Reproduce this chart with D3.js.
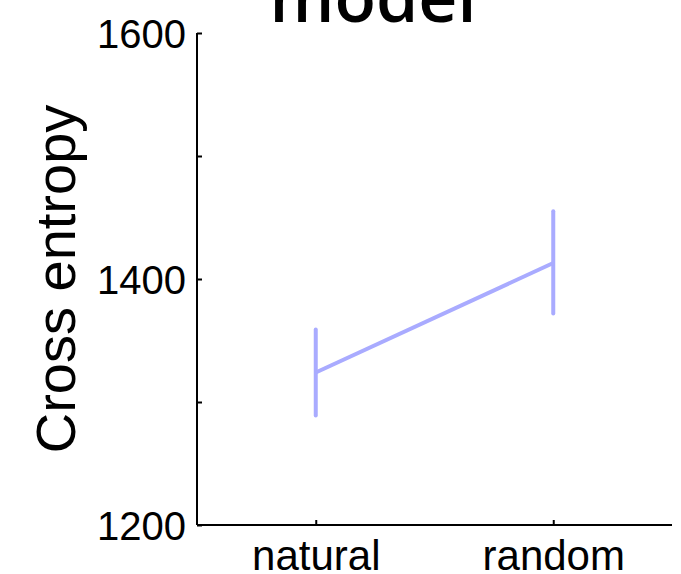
<!DOCTYPE html>
<html>
<head>
<meta charset="utf-8">
<script src="https://cdn.jsdelivr.net/npm/d3@7"></script>
<style>
  html, body { margin: 0; padding: 0; background: #fff; }
  svg { display: block; }
</style>
</head>
<body>
<svg id="chart" width="681" height="574"></svg>
<script>
const categories = ["natural", "random"];
const meanValues = [1324, 1413];
const errLow = [1289, 1372];
const errHigh = [1359, 1455];
const yTicks = [1200, 1300, 1400, 1500, 1600];
const yTickLabels = ["1200", "", "1400", "", "1600"];
const title = "model";
const yLabel = "Cross entropy";

const svg = d3.select("#chart");
const mLeft = 197, mRight = 672, mTop = 33, mBottom = 525;

const x = d3.scaleLinear().domain([0.5, 2.5]).range([mLeft, mRight]);
const y = d3.scaleLinear().domain([1200, 1600]).range([mBottom, mTop]);

const data = categories.map((c, i) => ({ c, i: i + 1, m: meanValues[i], lo: errLow[i], hi: errHigh[i] }));

// Y axis
const yAxis = d3.axisLeft(y).tickValues(yTicks).tickSize(-5).tickPadding(11)
  .tickFormat((d, i) => yTickLabels[i]);
const gy = svg.append("g").attr("transform", `translate(${mLeft},0)`).call(yAxis);
gy.select(".domain").attr("stroke", "#000").attr("stroke-width", 2).attr("d", `M0,${mBottom}V${mTop}`);
gy.selectAll(".tick line").attr("stroke", "#000").attr("stroke-width", 2);
gy.selectAll(".tick text").attr("font-family", "'Liberation Sans', Arial, sans-serif")
  .attr("font-size", 40).attr("fill", "#000").attr("dy", "0.36em");

// X axis
const xAxis = d3.axisBottom(x).tickValues(data.map(d => d.i)).tickSize(-5).tickPadding(15)
  .tickFormat((d, i) => categories[i]);
const gx = svg.append("g").attr("transform", `translate(0,${mBottom})`).call(xAxis);
gx.select(".domain").attr("stroke", "#000").attr("stroke-width", 2).attr("d", `M${mLeft},0H${mRight}`);
gx.selectAll(".tick line").attr("stroke", "#000").attr("stroke-width", 2);
gx.selectAll(".tick text").attr("font-family", "'Liberation Sans', Arial, sans-serif")
  .attr("font-size", 42).attr("fill", "#000");

// Error bars
const color = "#a9abff";
svg.append("g").selectAll("line").data(data).join("line")
  .attr("x1", d => x(d.i)).attr("x2", d => x(d.i))
  .attr("y1", d => y(d.lo)).attr("y2", d => y(d.hi))
  .attr("stroke", color).attr("stroke-width", 4).attr("stroke-linecap", "round");

// Mean line
svg.append("path").datum(data)
  .attr("d", d3.line().x(d => x(d.i)).y(d => y(d.m)))
  .attr("fill", "none").attr("stroke", color).attr("stroke-width", 4);

// Title
svg.append("text").attr("x", 373).attr("y", 22).attr("text-anchor", "middle")
  .attr("font-family", "'Open Sans', sans-serif").attr("font-weight", 600)
  .attr("font-size", 68).attr("fill", "#000").text(title);

// Y label
svg.append("text").attr("transform", `translate(75,${(mTop + mBottom) / 2}) rotate(-90)`)
  .attr("text-anchor", "middle")
  .attr("font-family", "'Liberation Sans', Arial, sans-serif")
  .attr("font-size", 56).attr("fill", "#000").text(yLabel);
</script>
</body>
</html>
